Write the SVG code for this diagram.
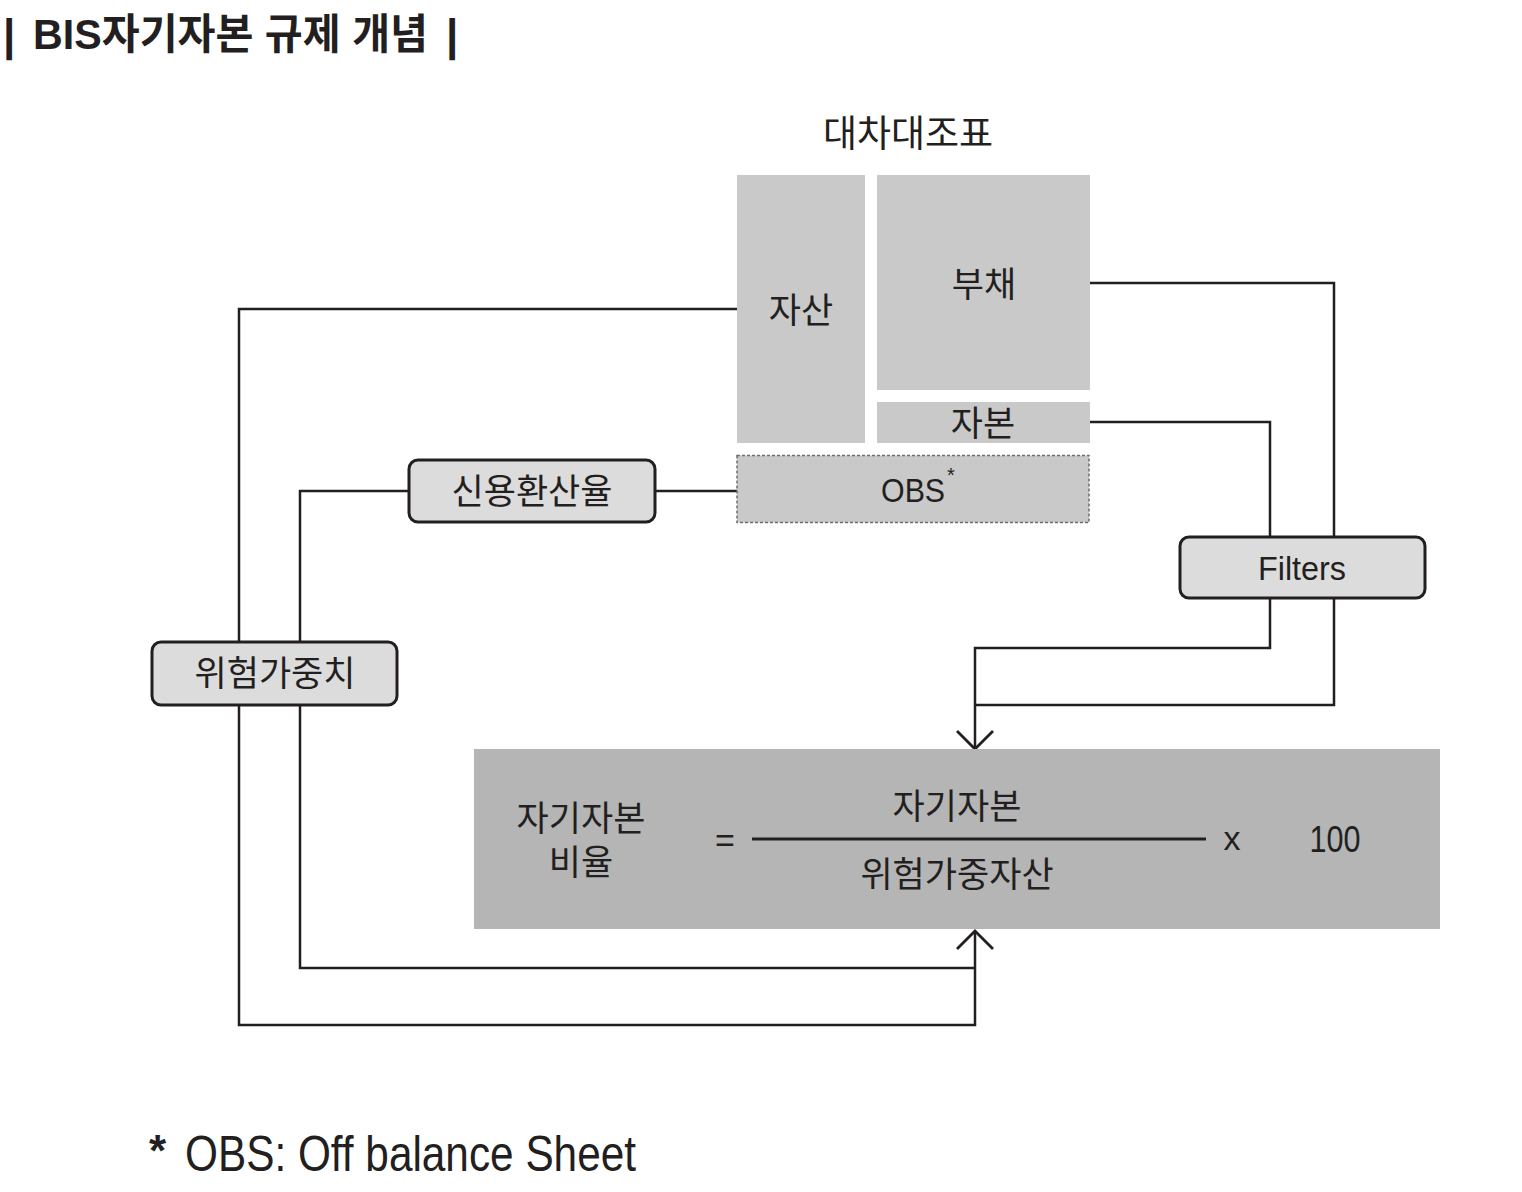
<svg xmlns="http://www.w3.org/2000/svg" width="1522" height="1192" viewBox="0 0 1522 1192">
<style>
  text { font-family: "Liberation Sans", "Noto Sans CJK KR", sans-serif; fill: #231f20; }
  .ko { font-family: "Noto Sans CJK KR", sans-serif; font-size: 35px; text-anchor: middle; }
  .lat { font-family: "Liberation Sans", Arial, sans-serif; text-anchor: middle; }
  .sheet { fill: #c8c9c8; }
  .pill { fill: #dcdcdc; stroke: #231f20; stroke-width: 3; }
  .conn { fill: none; stroke: #231f20; stroke-width: 2.5; }
</style>
<defs>
  <marker id="chev" viewBox="-22 -22 26 44" refX="0" refY="0" markerWidth="26" markerHeight="44" markerUnits="userSpaceOnUse" orient="auto" overflow="visible">
    <path d="M-18,-18 L0,0 L-18,18" fill="none" stroke="#231f20" stroke-width="2.8"/>
  </marker>
</defs>
<rect width="1522" height="1192" fill="#ffffff"/>

<g id="title">
  <text x="3" y="50" font-size="44" font-weight="bold">|</text>
  <text x="33" y="49" font-size="42" font-weight="bold" textLength="395" lengthAdjust="spacingAndGlyphs">BIS자기자본 규제 개념</text>
  <text x="446" y="50" font-size="44" font-weight="bold">|</text>
</g>

<g id="connectors">
  <path class="conn" d="M737,309 H239 V642"/>
  <path class="conn" d="M239,705 V1025 H975 V931" marker-end="url(#chev)"/>
  <path class="conn" d="M737,491 H655"/>
  <path class="conn" d="M409,491 H300 V642"/>
  <path class="conn" d="M300,705 V968 H975"/>
  <path class="conn" d="M1089,283 H1334 V537"/>
  <path class="conn" d="M1334,598 V705 H975"/>
  <path class="conn" d="M1089,422 H1270 V537"/>
  <path class="conn" d="M1270,598 V648 H975 V749" marker-end="url(#chev)"/>
</g>

<g id="balance-sheet-title">
  <text class="ko" x="908" y="147" style="font-size:37px">대차대조표</text>
</g>

<g id="asset">
  <rect class="sheet" x="737" y="175" width="128" height="268"/>
  <text class="ko" x="801" y="323">자산</text>
</g>

<g id="liability">
  <rect class="sheet" x="877" y="175" width="213" height="215"/>
  <text class="ko" x="984" y="297">부채</text>
</g>

<g id="capital">
  <rect class="sheet" x="877" y="402" width="213" height="41"/>
  <text class="ko" x="983" y="436">자본</text>
</g>

<g id="obs">
  <rect x="737" y="455.5" width="352" height="67" fill="#c8c9c8" stroke="#6d6e70" stroke-width="1.5" stroke-dasharray="3 2"/>
  <text class="lat" x="918" y="502" font-size="34"><tspan textLength="64" lengthAdjust="spacingAndGlyphs">OBS</tspan><tspan font-size="20" dx="2" dy="-20">*</tspan></text>
</g>

<g id="credit-conversion">
  <rect class="pill" x="409" y="460" width="246" height="62" rx="9"/>
  <text class="ko" x="532" y="504">신용환산율</text>
</g>

<g id="risk-weight">
  <rect class="pill" x="152" y="642" width="245" height="63" rx="9"/>
  <text class="ko" x="275" y="686">위험가중치</text>
</g>

<g id="filters">
  <rect class="pill" x="1180" y="537" width="245" height="61" rx="9"/>
  <text class="lat" x="1302" y="580" font-size="34" textLength="88" lengthAdjust="spacingAndGlyphs">Filters</text>
</g>

<g id="bis-ratio">
  <rect x="474" y="749" width="966" height="180" fill="#b4b5b4"/>
  <text class="ko" x="581" y="831">자기자본<tspan x="581" dy="44">비율</tspan></text>
  <text class="lat" x="725" y="852" font-size="34">=</text>
  <line x1="752" y1="839" x2="1206" y2="839" stroke="#231f20" stroke-width="3"/>
  <text class="ko" x="957" y="819">자기자본</text>
  <text class="ko" x="957" y="887">위험가중자산</text>
  <text class="lat" x="1232" y="850" font-size="34">x</text>
  <text class="lat" x="1335" y="852" font-size="36" textLength="51" lengthAdjust="spacingAndGlyphs">100</text>
</g>

<g id="footnote">
  <text x="149" y="1166" font-size="44" font-weight="bold">*</text>
  <text x="185" y="1171" font-size="50" textLength="451" lengthAdjust="spacingAndGlyphs">OBS: Off balance Sheet</text>
</g>
</svg>
